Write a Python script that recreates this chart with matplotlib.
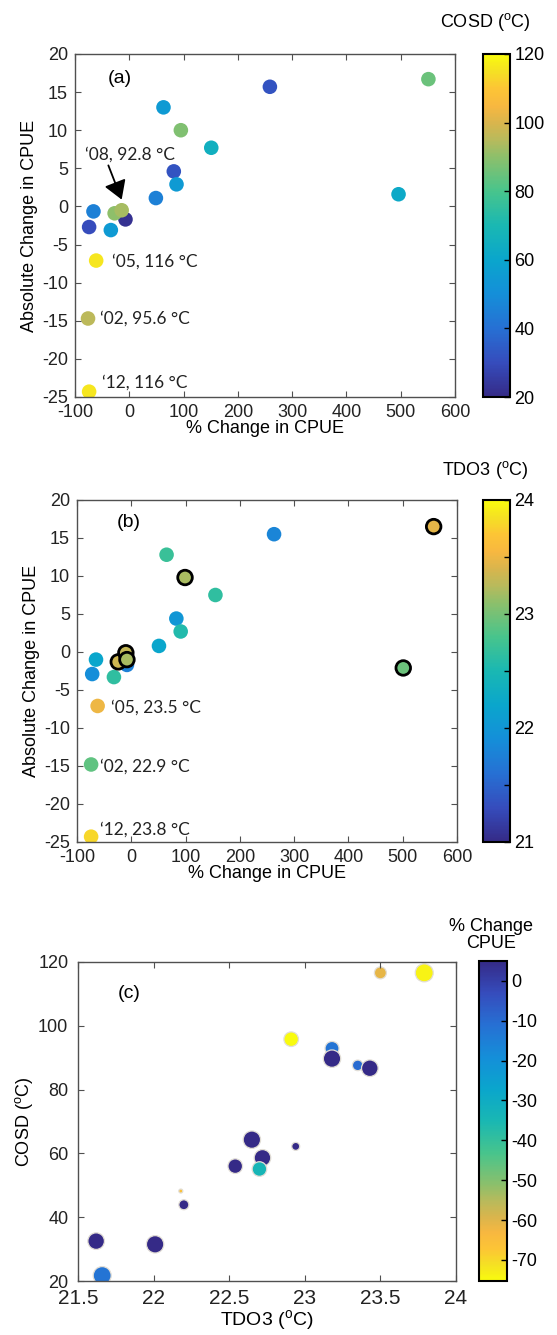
import numpy as np
import matplotlib
matplotlib.use('Agg')
import matplotlib.pyplot as plt
from matplotlib.colors import LinearSegmentedColormap, Normalize

plt.rcParams['font.family'] = ['Liberation Sans', 'DejaVu Sans']
plt.rcParams['mathtext.fontset'] = 'custom'
plt.rcParams['mathtext.rm'] = 'Liberation Sans'
plt.rcParams['axes.unicode_minus'] = False

# panel (a): % change, absolute change, COSD
pct_a = [259, 63, 95, 151, 82, 87, 49, -66, -74, -34, -7, -27, -14, 496, 551, -61, -76, -74]
abs_a = [15.7, 13.0, 10.0, 7.7, 4.6, 2.9, 1.1, -0.65, -2.7, -3.1, -1.7, -0.9, -0.5, 1.6, 16.7, -7.1, -14.7, -24.3]
cosd_a = [32, 55, 88, 65, 32, 55, 45, 45, 30, 55, 22, 90, 92.8, 62, 85, 116, 95.6, 116]

# panel (b): % change, absolute change, TDO3, outlined or not
pct_b = [263, 65, 99, 155, 83, 91, 51, -65, -72, -32, -8, -24, -10, -8, 501, 557, -62, -74, -74]
abs_b = [15.5, 12.8, 9.8, 7.5, 4.4, 2.7, 0.8, -1.0, -2.9, -3.3, -1.7, -1.3, -0.1, -1.0, -2.1, 16.5, -7.1, -14.8, -24.3]
tdo3_b = [21.8, 22.7, 23.2, 22.65, 22.0, 22.55, 22.2, 22.2, 21.9, 22.65, 21.75, 23.35, 23.3, 23.2, 22.95, 23.45, 23.5, 22.9, 23.8]
edge_b = [0, 0, 1, 0, 0, 0, 0, 0, 0, 0, 0, 1, 1, 1, 1, 1, 0, 0, 0]

# panel (c): TDO3, COSD, % change (colour), bubble value
tdo3_c = [23.50, 23.79, 22.91, 23.18, 23.18, 23.35, 23.43, 22.94, 22.65, 22.72, 22.54, 22.70, 22.18, 22.20, 21.62, 22.01, 21.66]
cosd_c = [116.6, 116.6, 95.8, 92.9, 89.7, 87.6, 86.7, 62.2, 64.3, 58.6, 56.0, 55.1, 48.2, 43.9, 32.5, 31.5, 21.7]
pct_c = [-61, -74, -75, -12, 95, -10, 551, 496, 151, 63, 87, -34, -66, 49, 259, 82, -12]
bub_c = [6, 9, 7.3, 7, 8.7, 5.3, 8.3, 4, 8.7, 8.3, 7.3, 7.3, 2, 5, 8.3, 8.7, 9]

labels_a = [("\u201805, 116 \u00b0C", -32, -7.2), ("\u201802, 95.6 \u00b0C", -54, -14.7), ("\u201812, 116 \u00b0C", -51, -23.1)]
labels_b = [("\u201805, 23.5 \u00b0C", -38, -7.3), ("\u201802, 22.9 \u00b0C", -57, -15.1), ("\u201812, 23.8 \u00b0C", -58, -23.4)]

parula = LinearSegmentedColormap.from_list('parula', [
    (0.00, (0.208, 0.166, 0.529)),
    (0.10, (0.21, 0.30, 0.74)),
    (0.20, (0.15, 0.44, 0.83)),
    (0.30, (0.08, 0.56, 0.85)),
    (0.40, (0.04, 0.65, 0.80)),
    (0.50, (0.10, 0.72, 0.70)),
    (0.60, (0.28, 0.77, 0.55)),
    (0.70, (0.55, 0.75, 0.42)),
    (0.75, (0.72, 0.73, 0.36)),
    (0.80, (0.85, 0.71, 0.30)),
    (0.85, (0.97, 0.72, 0.25)),
    (0.90, (0.99, 0.77, 0.21)),
    (0.95, (0.96, 0.88, 0.14)),
    (1.00, (0.976, 0.984, 0.054))])

W, H = 557, 1335
fig = plt.figure(figsize=(W / 100, H / 100), dpi=100)

def box(l, r, t, b):
    return fig.add_axes([l / W, 1 - b / H, (r - l) / W, (b - t) / H])

def style(ax):
    for s in ax.spines.values():
        s.set_color('#505050')
        s.set_linewidth(1)
    ax.tick_params(direction='in', length=4, width=0.8, color='#505050',
                   top=True, right=True, labelsize=13, labelcolor='#222222')
    ax.tick_params(axis='x', pad=5)
    ax.tick_params(axis='y', pad=5)

def style_cb(cb):
    cb.outline.set_linewidth(1.5)
    cb.outline.set_edgecolor('k')
    cb.ax.tick_params(direction='in', length=4, width=1, labelsize=13, pad=3)

anno_font = dict(family=['Lato', 'DejaVu Sans'], fontsize=12.5, color='#222222')

# (a)
ax = box(75, 455, 54, 397)
sc = ax.scatter(pct_a, abs_a, c=cosd_a, cmap=parula, vmin=20, vmax=120, s=110, linewidths=0)
ax.set_xlim(-100, 600)
ax.set_ylim(-25, 20)
ax.set_xticks(np.arange(-100, 601, 100))
ax.set_yticks(np.arange(-25, 21, 5))
style(ax)
ax.set_xlabel('% Change in CPUE', fontsize=13, labelpad=-1)
ax.set_ylabel('Absolute Change in CPUE', fontsize=13, labelpad=3)
ax.text(0.085, 0.93, '(a)', transform=ax.transAxes, fontsize=14, va='center')
for txt, x, y in labels_a:
    ax.text(x, y, txt, va='center', **anno_font)
ax.annotate('\u201808, 92.8 \u00b0C', xy=(-14, 0.9), xytext=(-82, 6.8), va='center',
            arrowprops=dict(arrowstyle='-|>,head_length=0.9,head_width=0.55', color='k', lw=1.3,
                            shrinkA=0, shrinkB=0, relpos=(0.25, 0.0)), **anno_font)
cax = box(483, 510, 54, 397)
cb = fig.colorbar(sc, cax=cax, ticks=np.arange(20, 121, 20))
style_cb(cb)
fig.text(485 / W, 1 - 22 / H, r'COSD ($^{\mathrm{o}}$C)', ha='center', va='center', fontsize=13)

# (b)
ax = box(77, 457, 500, 842)
ec = ['k' if e else 'none' for e in edge_b]
lw = [2.0 if e else 0 for e in edge_b]
sc = ax.scatter(pct_b, abs_b, c=tdo3_b, cmap=parula, vmin=21, vmax=24, s=110,
                edgecolors=ec, linewidths=lw)
ax.set_xlim(-100, 600)
ax.set_ylim(-25, 20)
ax.set_xticks(np.arange(-100, 601, 100))
ax.set_yticks(np.arange(-25, 21, 5))
style(ax)
ax.set_xlabel('% Change in CPUE', fontsize=13, labelpad=-1)
ax.set_ylabel('Absolute Change in CPUE', fontsize=13, labelpad=3)
ax.text(0.105, 0.933, '(b)', transform=ax.transAxes, fontsize=14, va='center')
for txt, x, y in labels_b:
    ax.text(x, y, txt, va='center', **anno_font)
cax = box(483, 510, 500, 842)
cb = fig.colorbar(sc, cax=cax, ticks=np.arange(21, 24.01, 0.5))
cb.ax.set_yticklabels(['21', '', '22', '', '23', '', '24'])
style_cb(cb)
fig.text(485 / W, 1 - 470 / H, r'TDO3 ($^{\mathrm{o}}$C)', ha='center', va='center', fontsize=13)

# (c)
ax = box(78, 456, 962, 1281)
norm_c = Normalize(vmin=-75.3, vmax=5)
sc = ax.scatter(tdo3_c, cosd_c, c=pct_c, cmap=parula.reversed(), norm=norm_c,
                s=[2.07 * v ** 2 for v in bub_c], edgecolors='#e2ded6', linewidths=0.9)
ax.set_xlim(21.5, 24)
ax.set_ylim(20, 120)
ax.set_xticks(np.arange(21.5, 24.01, 0.5))
ax.set_xticklabels(['21.5', '22', '22.5', '23', '23.5', '24'])
ax.set_yticks(np.arange(20, 121, 20))
style(ax)
ax.tick_params(axis='x', labelsize=15, pad=6)
ax.tick_params(axis='y', pad=7)
ax.set_xlabel(r'TDO3 ($^{\mathrm{o}}$C)', fontsize=14, labelpad=0)
ax.set_ylabel(r'COSD ($^{\mathrm{o}}$C)', fontsize=13, labelpad=2)
ax.text(0.106, 0.90, '(c)', transform=ax.transAxes, fontsize=14, va='center')
cax = box(479, 507, 961, 1281)
cb = fig.colorbar(sc, cax=cax, ticks=np.arange(-70, 1, 10))
style_cb(cb)
fig.text(491 / W, 1 - 935 / H, '% Change\nCPUE', ha='center', va='center', fontsize=13,
         linespacing=0.95)

fig.savefig('out.png', dpi=100)
